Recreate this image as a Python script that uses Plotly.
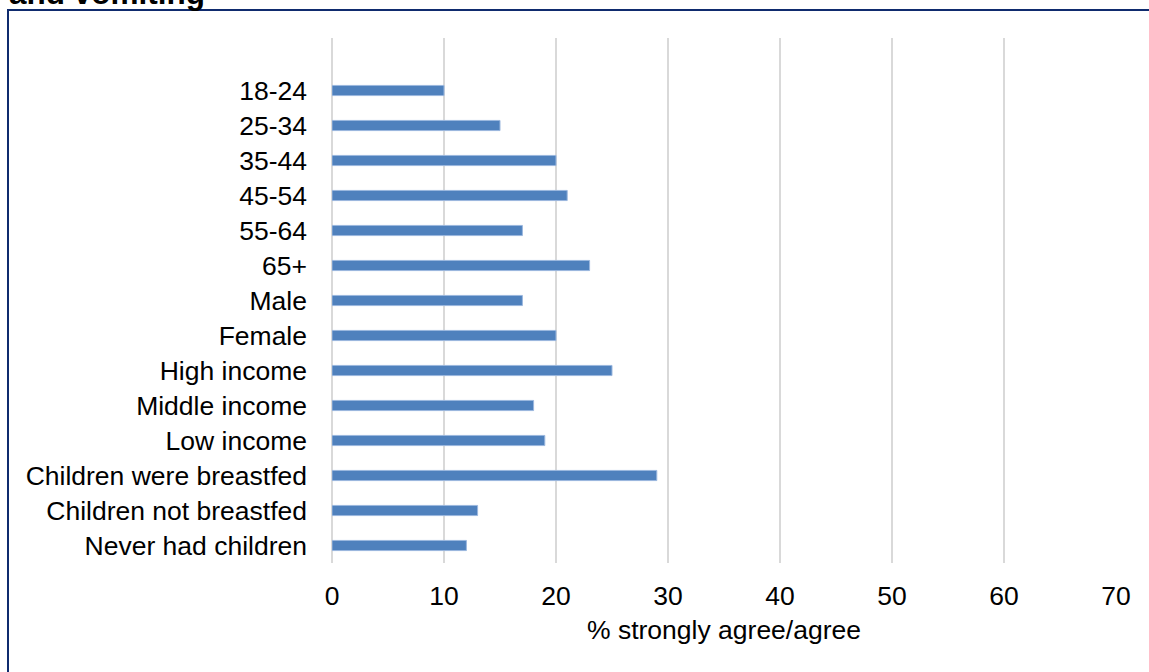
import plotly.graph_objects as go

# Share of respondents who strongly agree/agree, by group
categories = [
    "18-24", "25-34", "35-44", "45-54", "55-64", "65+",
    "Male", "Female",
    "High income", "Middle income", "Low income",
    "Children were breastfed", "Children not breastfed", "Never had children",
]
values = [10, 15, 20, 21, 17, 23, 17, 20, 25, 18, 19, 29, 13, 12]

x_ticks = [0, 10, 20, 30, 40, 50, 60, 70]
x_title = "% strongly agree/agree"
title_tail = "and vomiting"

W, H = 1149, 672
L, R, T, B = 332, 33, 38, 109
PW, PH = W - L - R, H - T - B


def px_x(px):
    return (px - L) / PW


def px_y(py):
    return (H - B - py) / PH


FONT = "Liberation Sans, Arial, sans-serif"
FS = 26.5

fig = go.Figure(
    go.Bar(
        x=values,
        y=categories,
        orientation="h",
        width=0.29,
        marker=dict(color="#4f81bd", line=dict(color="#9bb7de", width=1)),
        hoverinfo="x+y",
    )
)

fig.update_layout(
    width=W,
    height=H,
    margin=dict(l=L, r=R, t=T, b=B, pad=0),
    paper_bgcolor="white",
    plot_bgcolor="white",
    showlegend=False,
    font=dict(family=FONT, size=FS, color="#000000"),
    xaxis=dict(
        range=[0, 70],
        tickvals=x_ticks,
        ticktext=[str(t) for t in x_ticks],
        showgrid=True,
        gridcolor="#d9d9d9",
        gridwidth=2,
        zeroline=True,
        zerolinecolor="#d9d9d9",
        zerolinewidth=2,
        showline=False,
        ticks="",
        ticklabelstandoff=14,
        tickfont=dict(size=FS),
        title=dict(text=x_title, font=dict(size=FS), standoff=10),
    ),
    yaxis=dict(
        type="category",
        categoryorder="array",
        categoryarray=categories,
        range=[13.5, -1.5],
        showgrid=False,
        zeroline=False,
        showline=False,
        ticks="",
        ticklabelstandoff=24,
        tickfont=dict(size=FS),
    ),
    shapes=[
        dict(
            type="rect",
            xref="paper",
            yref="paper",
            x0=px_x(8),
            x1=px_x(W + 5),
            y0=px_y(H + 5),
            y1=px_y(10),
            line=dict(color="#0f2b6e", width=2),
            fillcolor="rgba(0,0,0,0)",
            layer="above",
        )
    ],
    annotations=[
        dict(
            text="<b>" + title_tail + "</b>",
            xref="paper",
            yref="paper",
            x=px_x(7),
            y=px_y(13),
            xanchor="left",
            yanchor="bottom",
            showarrow=False,
            font=dict(family=FONT, size=31.5, color="#000000"),
        )
    ],
)

fig.write_html("out.html")
